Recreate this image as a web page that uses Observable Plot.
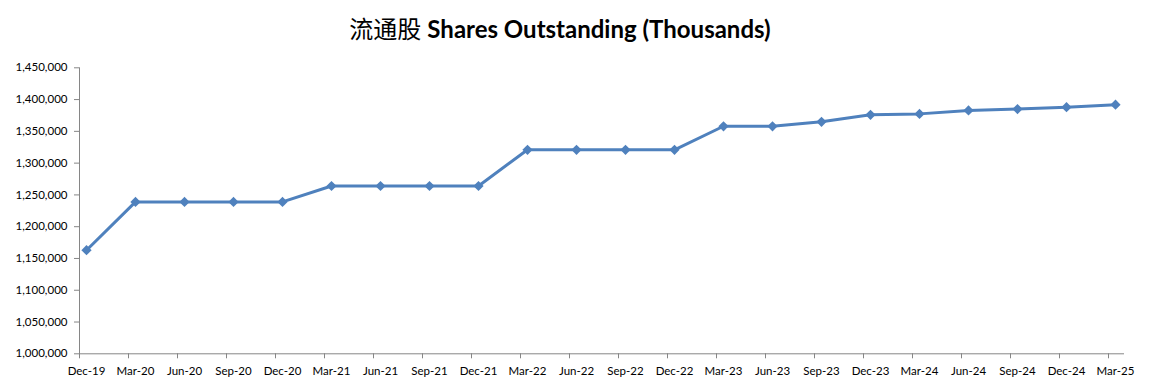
<!DOCTYPE html>
<html>
<head>
<meta charset="utf-8">
<script src="https://cdn.jsdelivr.net/npm/d3@7"></script>
<script src="https://cdn.jsdelivr.net/npm/@observablehq/plot@0.6"></script>
<style>
  html, body { margin: 0; padding: 0; background: #fff; }
  #wrap { position: relative; width: 1153px; height: 387px; }
  #title { position: absolute; left: 0; top: 13px; width: 1120px; text-align: center; font-size: 24px; line-height: 30px; color: #000; }
  #title .zh { font-family: "Noto Sans CJK SC", sans-serif; font-weight: 400; }
  #title .en { font-family: Lato, "Open Sans", sans-serif; font-weight: 700; }
  svg { position: absolute; left: 0; top: 0; }
</style>
</head>
<body>
<div id="wrap">
  <div id="title"><span class="zh">流通股</span> <span class="en">Shares Outstanding (Thousands)</span></div>
</div>
<script>
const categories = ["Dec-19","Mar-20","Jun-20","Sep-20","Dec-20","Mar-21","Jun-21","Sep-21","Dec-21","Mar-22","Jun-22","Sep-22","Dec-22","Mar-23","Jun-23","Sep-23","Dec-23","Mar-24","Jun-24","Sep-24","Dec-24","Mar-25"];
const shares = [1163000,1239000,1239000,1239000,1239000,1264000,1264000,1264000,1264000,1321000,1321000,1321000,1321000,1358000,1358000,1365000,1376000,1377500,1383000,1385000,1388000,1392000];
const yTicks = [1000000,1050000,1100000,1150000,1200000,1250000,1300000,1350000,1400000,1450000];

const data = categories.map((c, i) => ({i, c, v: shares[i]}));
const idx = categories.map((c, i) => i);
const tickOffset = -7 / 49;
const axisColor = "#868686";
const blue = "#4f81bd";

const chart = Plot.plot({
  width: 1153,
  height: 387,
  marginLeft: 79,
  marginRight: 30,
  marginTop: 67.3,
  marginBottom: 33.7,
  style: {fontFamily: "Lato, sans-serif", fontSize: "11.5px", color: "#000", background: "transparent"},
  x: {domain: [tickOffset, 21 + 8 / 49], label: null},
  y: {domain: [1000000, 1450000], label: null},
  marks: [
    Plot.axisY(yTicks, {tickFormat: d3.format(","), tickSize: 5, tickPadding: 7, stroke: axisColor, fill: "#000", label: null}),
    Plot.axisX(idx.map(i => i + tickOffset), {tickFormat: () => "", tickSize: 5, stroke: axisColor, label: null}),
    Plot.axisX(idx, {tickFormat: i => categories[i], tickSize: 0, tickPadding: 13, fill: "#000", label: null}),
    Plot.frame({anchor: "left", stroke: axisColor}),
    Plot.frame({anchor: "bottom", stroke: axisColor}),
    Plot.line(data, {x: "i", y: "v", stroke: blue, strokeWidth: 3}),
    Plot.dot(data, {x: "i", y: "v", symbol: "diamond2", r: 4.6, fill: blue, stroke: "none"})
  ]
});
document.getElementById("wrap").prepend(chart);
</script>
</body>
</html>
